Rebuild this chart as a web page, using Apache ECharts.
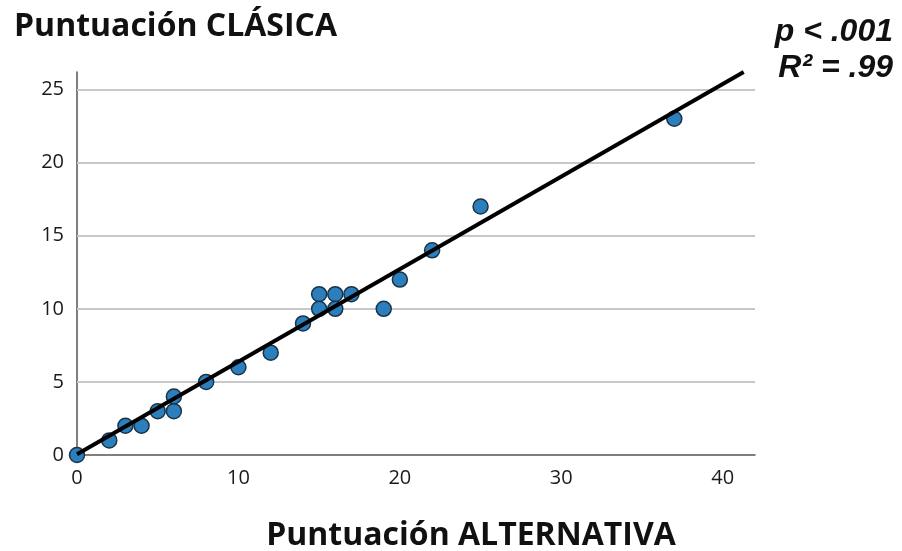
<!DOCTYPE html>
<html><head><meta charset="utf-8">
<script src="https://cdn.jsdelivr.net/npm/echarts@6/dist/echarts.min.js"></script>
<style>html,body{margin:0;padding:0;background:#fff}#c{width:902px;height:551px}</style>
</head><body><div id="c"></div>
<script>
var alternativa = [0, 2, 3, 4, 5, 6, 6, 8, 10, 12, 14, 15, 15, 16, 16, 17, 19, 20, 22, 25, 37];
var clasica     = [0, 1, 2, 2, 3, 4, 3, 5, 6, 7, 9, 11, 10, 11, 10, 11, 10, 12, 14, 17, 23];
var fitX = [0, 41.3];
var fitY = [0.05, 26.2];
var xTicks = [0, 10, 20, 30, 40];
var yTicks = [0, 5, 10, 15, 20, 25];
var titleY = 'Puntuación CLÁSICA';
var titleX = 'Puntuación ALTERNATIVA';
var stat1 = 'p < .001';
var stat2 = 'R² = .99';

var pts = alternativa.map(function(v, i){ return [v, clasica[i]]; });
var line = fitX.map(function(v, i){ return [v, fitY[i]]; });
var gridLines = yTicks.filter(function(v){ return v > 0; }).map(function(v){ return {yAxis: v}; });

var chart = echarts.init(document.getElementById('c'), null, {renderer:'canvas'});
chart.setOption({
  animation: false,
  backgroundColor: '#fff',
  title: [
    {text: titleY, left: 9, top: 6, textStyle:{fontFamily:'Open Sans', fontWeight:'bold', fontSize:32, color:'#111'}},
    {text: stat1, right: 4, top: 11, textStyle:{fontFamily:'Liberation Sans', fontWeight:'bold', fontStyle:'italic', fontSize:32, color:'#111'}},
    {text: stat2, right: 4, top: 47, textStyle:{fontFamily:'Liberation Sans', fontWeight:'bold', fontStyle:'italic', fontSize:32, color:'#111'}},
    {text: titleX, left: 466, top: 515, textAlign:'center', textStyle:{fontFamily:'Open Sans', fontWeight:'bold', fontSize:32, color:'#111'}}
  ],
  grid: {left: 77, right: 147, top: 72, bottom: 96, containLabel:false},
  xAxis: {
    type:'value', min:0, max:42, interval:10,
    axisLine:{show:true, lineStyle:{color:'#555', width:1.5}},
    axisTick:{show:false},
    splitLine:{show:false},
    axisLabel:{fontFamily:'Open Sans', fontSize:20, color:'#1a1a1a', margin:13,
      formatter:function(v){ return xTicks.indexOf(v) >= 0 ? String(v) : ''; }}
  },
  yAxis: {
    type:'value', min:0, max:26.2, interval:5,
    axisLine:{show:true, lineStyle:{color:'#555', width:1.5}},
    axisTick:{show:false},
    splitLine:{show:false},
    axisLabel:{fontFamily:'Open Sans', fontSize:20, color:'#1a1a1a', margin:13,
      formatter:function(v){ return yTicks.indexOf(v) >= 0 ? String(v) : ''; }}
  },
  series: [
    {type:'line', data: line, symbol:'none', clip:true, z:3,
     lineStyle:{color:'#000', width:4}},
    {type:'scatter', data: pts, symbol:'circle', symbolSize:15, z:2,
     itemStyle:{color:'#2a7fbc', borderColor:'#1a3347', borderWidth:1.5, opacity:1},
     markLine:{silent:true, symbol:'none', label:{show:false}, z:1,
       lineStyle:{color:'#c8c8c8', width:2, type:'solid'}, data: gridLines}}
  ]
});
</script></body></html>
